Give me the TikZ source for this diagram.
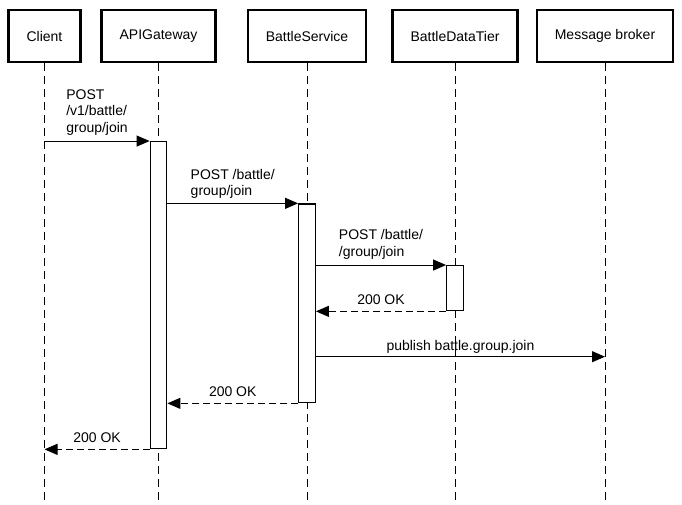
\documentclass[tikz,border=0pt]{standalone}
\usepackage{fontspec}
\setmainfont{Liberation Sans}
\usepackage{tikz}
\usetikzlibrary{arrows.meta, positioning, calc}

\begin{document}
\begin{tikzpicture}[
    x=1pt, y=-1pt,
    font=\fontsize{14}{16.7}\selectfont,
    head/.style={draw, line width=2.4pt, fill=white, inner xsep=18pt, minimum height=52pt},
    life/.style={line width=1pt, dash pattern=on 8pt off 5pt},
    act/.style={draw, line width=1.3pt, fill=white, minimum width=16.5pt, inner sep=0pt},
    msg/.style={-{Triangle[length=13pt, width=11pt]}, line width=1pt},
    ret/.style={msg, dash pattern=on 7pt off 4pt},
    lbl/.style={above, align=left, inner xsep=0pt, inner ysep=3pt, text depth=3pt},
  ]
  \useasboundingbox (0,0) rectangle (682,505);
  % ---- participants
  \node[head] (client) at (44.5,36) {Client};
  \node[head] (gateway) at (158.5,36) {APIGateway};
  \node[head] (service) at (307,36) {BattleService};
  \node[head] (datatier) at (455,36) {BattleDataTier};
  \node[head] (broker) at (605,36) {Message broker};
  % ---- lifelines
  \coordinate (bottom) at (0,505);
  \foreach \p in {client, gateway, service, datatier, broker}
    \draw[life] (\p.south) -- (\p |- bottom);
  % ---- activations
  \node[act, minimum height=307pt] (actGW) at (158.5,295.2) {};
  \node[act, minimum height=198.7pt] (actBS) at (307,303.35) {};
  \node[act, minimum height=45pt] (actDT) at (455,288.2) {};
  \coordinate (pub) at (0,356.7);
  % ---- messages
  \draw[msg] (client |- actGW.north) -- (actGW.north west)
    node[midway, lbl, yshift=2pt] {POST\\/v1/battle/\\group/join};
  \draw[msg] (actGW.east |- actBS.north) -- (actBS.north west)
    node[midway, lbl, yshift=1pt] {POST /battle/\\group/join};
  \draw[msg] (actBS.east |- actDT.north) -- (actDT.north west)
    node[midway, lbl, yshift=2pt] {POST /battle/\\/group/join};
  \draw[ret] (actDT.south west) -- (actBS.east |- actDT.south)
    node[midway, lbl] {200 OK};
  \draw[msg] (actBS.east |- pub) -- (broker |- pub)
    node[midway, lbl] {publish battle.group.join};
  \draw[ret] (actBS.south west) -- (actGW.east |- actBS.south)
    node[midway, lbl] {200 OK};
  \draw[ret] (actGW.south west) -- (client |- actGW.south)
    node[midway, lbl] {200 OK};
\end{tikzpicture}
\end{document}
